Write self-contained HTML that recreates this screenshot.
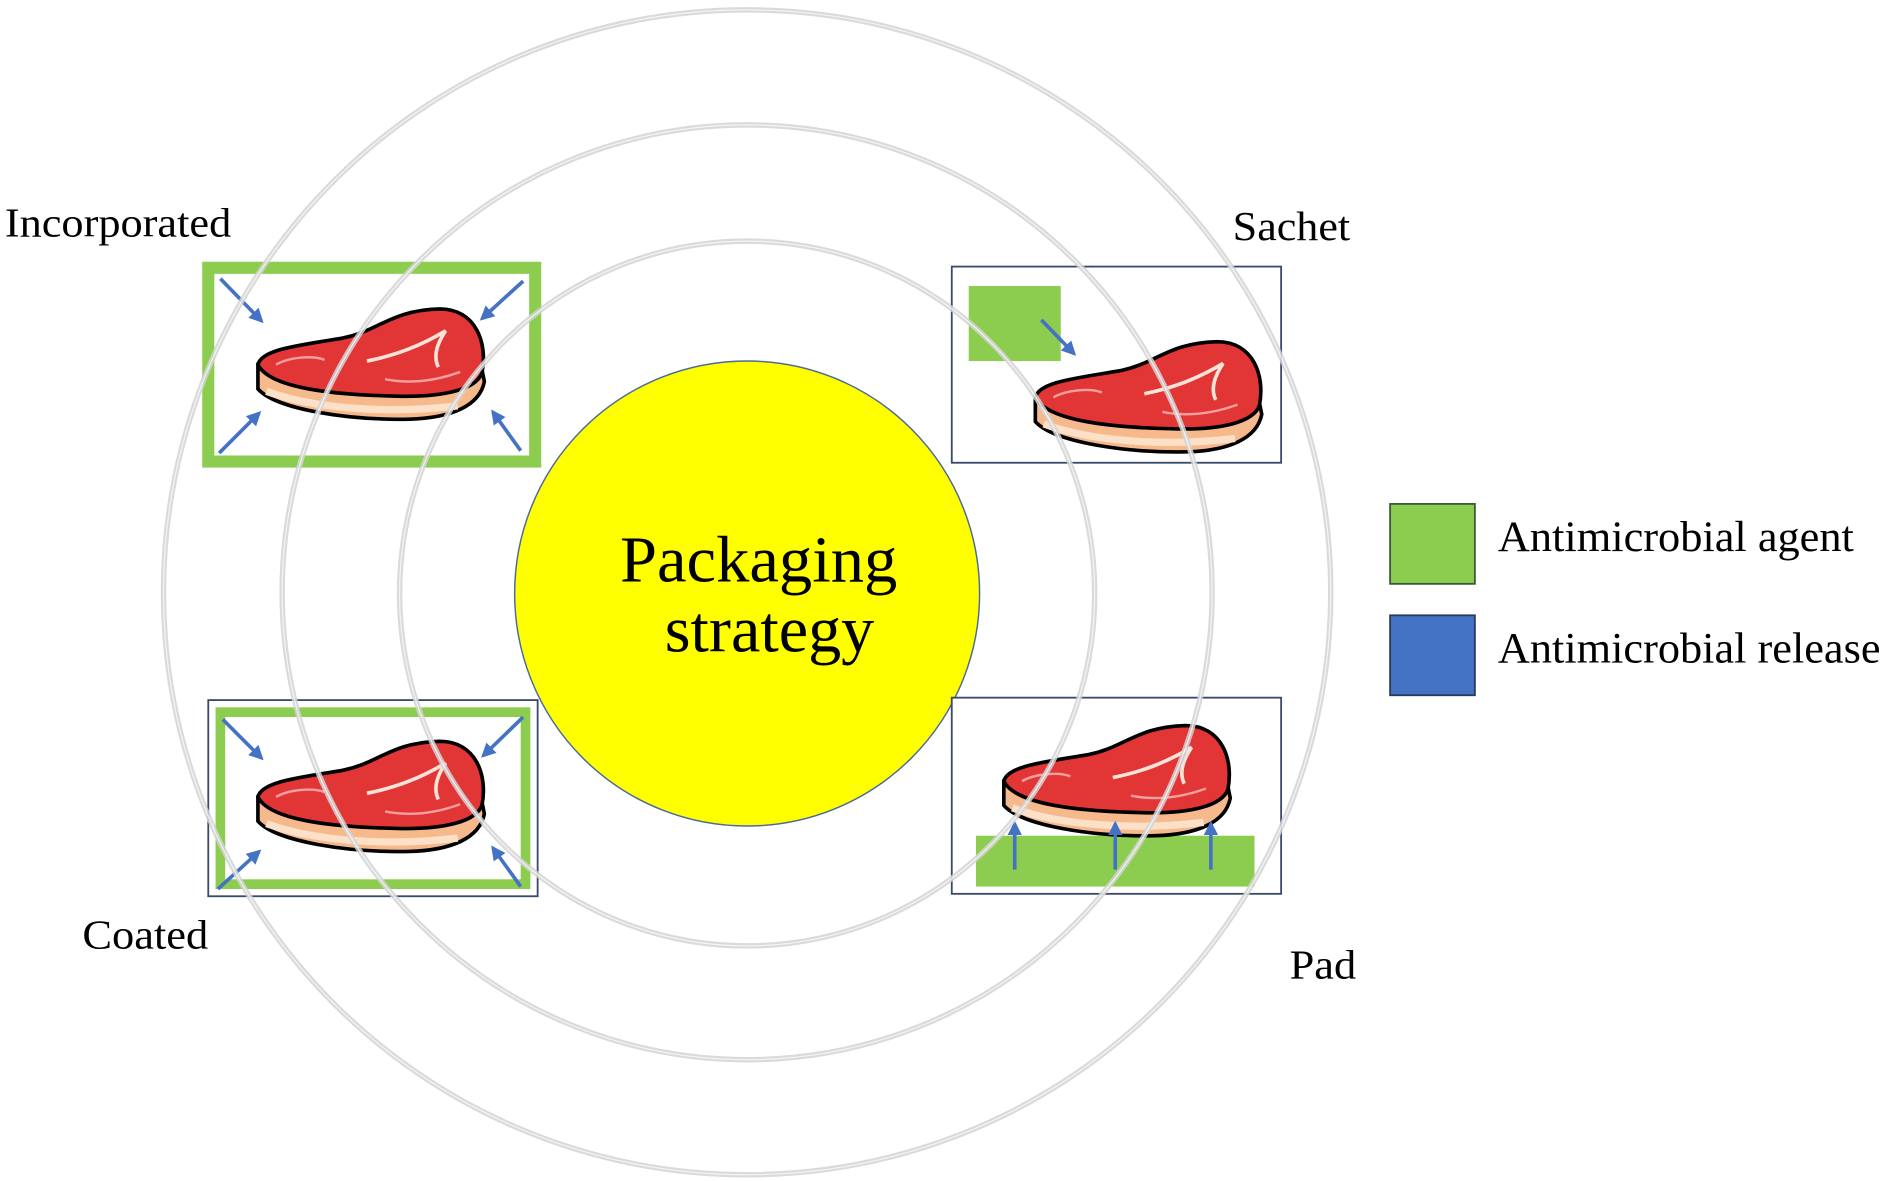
<!DOCTYPE html>
<html><head><meta charset="utf-8"><style>
html,body{margin:0;padding:0;background:#fff;}
svg{display:block;}
text{font-family:"Liberation Serif",serif;fill:#000;}
</style></head><body>
<svg width="1889" height="1181" viewBox="0 0 1560 975" xmlns="http://www.w3.org/2000/svg">
<defs>
<marker id="ah" viewBox="0 0 10 10" refX="8" refY="5" markerWidth="4" markerHeight="4" orient="auto-start-reverse">
<path d="M0,0 L10,5 L0,10 Z" fill="#4472c4"/></marker>
<g id="meat">
<path d="M5,48 L5,68 C20,85 80,94 130,93 C165,92 188,82 192,62 L190,52 Z" fill="#f6b98c" stroke="#000" stroke-width="3"/>
<path d="M12,70 C50,84 110,89 170,82" fill="none" stroke="#fde0c8" stroke-width="6"/>
<path d="M5,48 C8,35 40,32 75,26 C105,20 115,3 155,2 C185,2 195,30 190,55 C185,68 160,75 120,74 C70,73 15,68 5,48 Z" fill="#e23535" stroke="#000" stroke-width="3"/>
<path d="M95,45 C120,40 140,32 160,20 C152,32 150,42 154,50" fill="none" stroke="#fbe3d8" stroke-width="3"/>
<path d="M20,48 C30,42 50,40 60,44 M110,60 C130,64 150,62 172,54" fill="none" stroke="#f4a0a0" stroke-width="2"/>
</g>
</defs>

<circle cx="617" cy="490" r="192" fill="#ffff00" stroke="#4a6a9a" stroke-width="1.2"/>
<text x="512" y="480" font-size="54" textLength="229" lengthAdjust="spacingAndGlyphs">Packaging</text>
<text x="549" y="538" font-size="54" textLength="173" lengthAdjust="spacingAndGlyphs">strategy</text>

<text x="4" y="195" font-size="34" textLength="187" lengthAdjust="spacingAndGlyphs">Incorporated</text>
<rect x="172" y="221" width="270" height="160" fill="#fff" stroke="#8ccc4f" stroke-width="10"/>
<use href="#meat" x="208" y="253"/>
<line x1="182" y1="230" x2="216" y2="265" stroke="#4472c4" stroke-width="3" marker-end="url(#ah)"/>
<line x1="432" y1="232" x2="398" y2="263" stroke="#4472c4" stroke-width="3" marker-end="url(#ah)"/>
<line x1="181" y1="374" x2="214" y2="341" stroke="#4472c4" stroke-width="3" marker-end="url(#ah)"/>
<line x1="430" y1="372" x2="407" y2="340" stroke="#4472c4" stroke-width="3" marker-end="url(#ah)"/>

<text x="1018" y="198" font-size="34" textLength="97" lengthAdjust="spacingAndGlyphs">Sachet</text>
<rect x="786" y="220" width="272" height="162" fill="#fff" stroke="#3a4a6a" stroke-width="1.5"/>
<rect x="800" y="236" width="76" height="62" fill="#8ccc4f"/>
<use href="#meat" x="850" y="280"/>
<line x1="860" y1="264" x2="887" y2="292" stroke="#4472c4" stroke-width="3" marker-end="url(#ah)"/>

<text x="68" y="783" font-size="34" textLength="104" lengthAdjust="spacingAndGlyphs">Coated</text>
<rect x="172" y="578" width="272" height="162" fill="#fff" stroke="#3a4a6a" stroke-width="1.5"/>
<rect x="182" y="588" width="252" height="142" fill="none" stroke="#8ccc4f" stroke-width="8"/>
<use href="#meat" x="208" y="610"/>
<line x1="184" y1="594" x2="216" y2="626" stroke="#4472c4" stroke-width="3" marker-end="url(#ah)"/>
<line x1="432" y1="592" x2="399" y2="624" stroke="#4472c4" stroke-width="3" marker-end="url(#ah)"/>
<line x1="180" y1="734" x2="214" y2="703" stroke="#4472c4" stroke-width="3" marker-end="url(#ah)"/>
<line x1="430" y1="732" x2="407" y2="700" stroke="#4472c4" stroke-width="3" marker-end="url(#ah)"/>

<text x="1065" y="808" font-size="34" textLength="55" lengthAdjust="spacingAndGlyphs">Pad</text>
<rect x="786" y="576" width="272" height="162" fill="#fff" stroke="#3a4a6a" stroke-width="1.5"/>
<rect x="806" y="690" width="230" height="42" fill="#8ccc4f"/>
<use href="#meat" x="824" y="597"/>
<line x1="838" y1="718" x2="838" y2="680" stroke="#4472c4" stroke-width="3" marker-end="url(#ah)"/>
<line x1="921" y1="718" x2="921" y2="680" stroke="#4472c4" stroke-width="3" marker-end="url(#ah)"/>
<line x1="1000" y1="718" x2="1000" y2="680" stroke="#4472c4" stroke-width="3" marker-end="url(#ah)"/>

<g fill="none" stroke="#d4d4d4" stroke-opacity="0.85" stroke-width="4.5">
<ellipse cx="617" cy="490" rx="287" ry="291"/>
<ellipse cx="617" cy="489" rx="384" ry="386"/>
<ellipse cx="617" cy="489" rx="482" ry="481"/>
</g>
<g fill="none" stroke="#fff" stroke-opacity="0.7" stroke-width="1">
<ellipse cx="617" cy="490" rx="287" ry="291"/>
<ellipse cx="617" cy="489" rx="384" ry="386"/>
<ellipse cx="617" cy="489" rx="482" ry="481"/>
</g>

<rect x="1148" y="416" width="70" height="66" fill="#8ccc4f" stroke="#3a5a3a" stroke-width="1.5"/>
<rect x="1148" y="508" width="70" height="66" fill="#4472c4" stroke="#2a3a5a" stroke-width="1.5"/>
<text x="1237" y="455" font-size="36" textLength="294" lengthAdjust="spacingAndGlyphs">Antimicrobial agent</text>
<text x="1237" y="547" font-size="36" textLength="316" lengthAdjust="spacingAndGlyphs">Antimicrobial release</text>
</svg>
</body></html>
